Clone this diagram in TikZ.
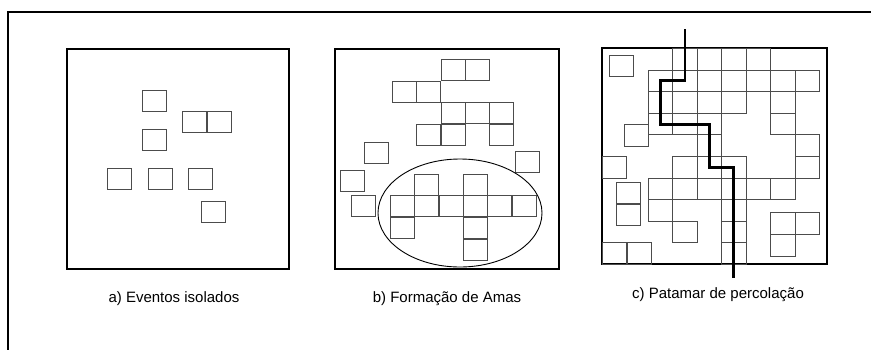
\documentclass[tikz,border=0pt]{standalone}
\usepackage{fontspec}
\setmainfont{Liberation Sans}
\usetikzlibrary{positioning}

\newcommand{\cw}{24.5}
\newcommand{\ch}{21.6}

\begin{document}
\begin{tikzpicture}[x=1pt, y=-1pt,
  cell/.style={draw=black!70, line width=0.7pt},
  panel/.style={draw=black, line width=2.6pt},
  route/.style={draw=black, line width=2.6pt},
  lbl/.style={font=\fontsize{15}{18}\selectfont, inner sep=0pt}]

\path[use as bounding box] (0,0) rectangle (871,349);
\clip (0,0) rectangle (871,349);

% Outer frame (runs off the page right and below)
\draw[line width=2.2pt] (8,360) |- (880,12);

% Panel a: isolated events
\draw[panel] (67,49) rectangle (289,269);
\foreach \x/\y in {142/90, 182/111, 207/111, 142/129, 107/168, 148/168, 188/168, 201/201}
  \draw[cell] (\x,\y) rectangle ++(\cw,\ch);

% Panel b: clusters
\draw[panel] (335,49) rectangle (559,269);
\foreach \x/\y in {441/59, 465/59, 392/81, 416/81, 441/102, 465/102, 489/102,
                   416/124, 441/124, 489/124, 364/142, 515/151, 340/170, 351/195}
  \draw[cell] (\x,\y) rectangle ++(\cw,\ch);
% cluster inside the ellipse
\foreach \x/\y in {414/174, 463/174, 390/195, 414/195, 439/195, 463/195, 487/195, 512/195,
                   390/217, 463/217, 463/239}
  \draw[cell] (\x,\y) rectangle ++(\cw,\ch);
\draw[line width=0.9pt] (460,213) ellipse [x radius=82, y radius=54];

% Panel c: percolation threshold
\draw[panel] (602,48) rectangle (827,264);
\foreach \i/\j in {3/0, 4/0, 5/0, 6/0,
                   2/1, 3/1, 4/1, 5/1, 6/1, 7/1, 8/1,
                   2/2, 3/2, 5/2, 7/2,
                   2/3, 3/3, 4/3, 7/3,
                   4/4, 8/4,
                   3/5, 4/5, 5/5, 8/5,
                   2/6, 3/6, 4/6, 5/6, 6/6, 7/6,
                   2/7, 5/7,
                   3/8, 5/8,
                   5/9}
  \draw[cell] ({599.4+24.45*\i},{48.3+21.6*\j}) rectangle ++(24.45,21.6);
\foreach \x/\y in {609/55, 624.3/124.3, 602.3/156.7, 616/182.7, 616/203.7,
                   602.3/242.7, 627/242.7, 770.7/212.7, 795/212.7, 770.7/234.3}
  \draw[cell] (\x,\y) rectangle ++(24.45,21.6);

% spanning path
\coordinate (pin) at (685,29);
\coordinate (pout) at (733.3,278);
\draw[route] (pin) |- (660.7,80.7) |- (709.3,124.3) |- (733.3,167.7) -- (pout);

% Captions
\node[lbl] (la) at (174,299) {a) Eventos isolados};
\node[lbl] (lb) at (447,299) {b) Formação de Amas};
\node[lbl] (lc) at (718,295) {c) Patamar de percolação};

\end{tikzpicture}
\end{document}
